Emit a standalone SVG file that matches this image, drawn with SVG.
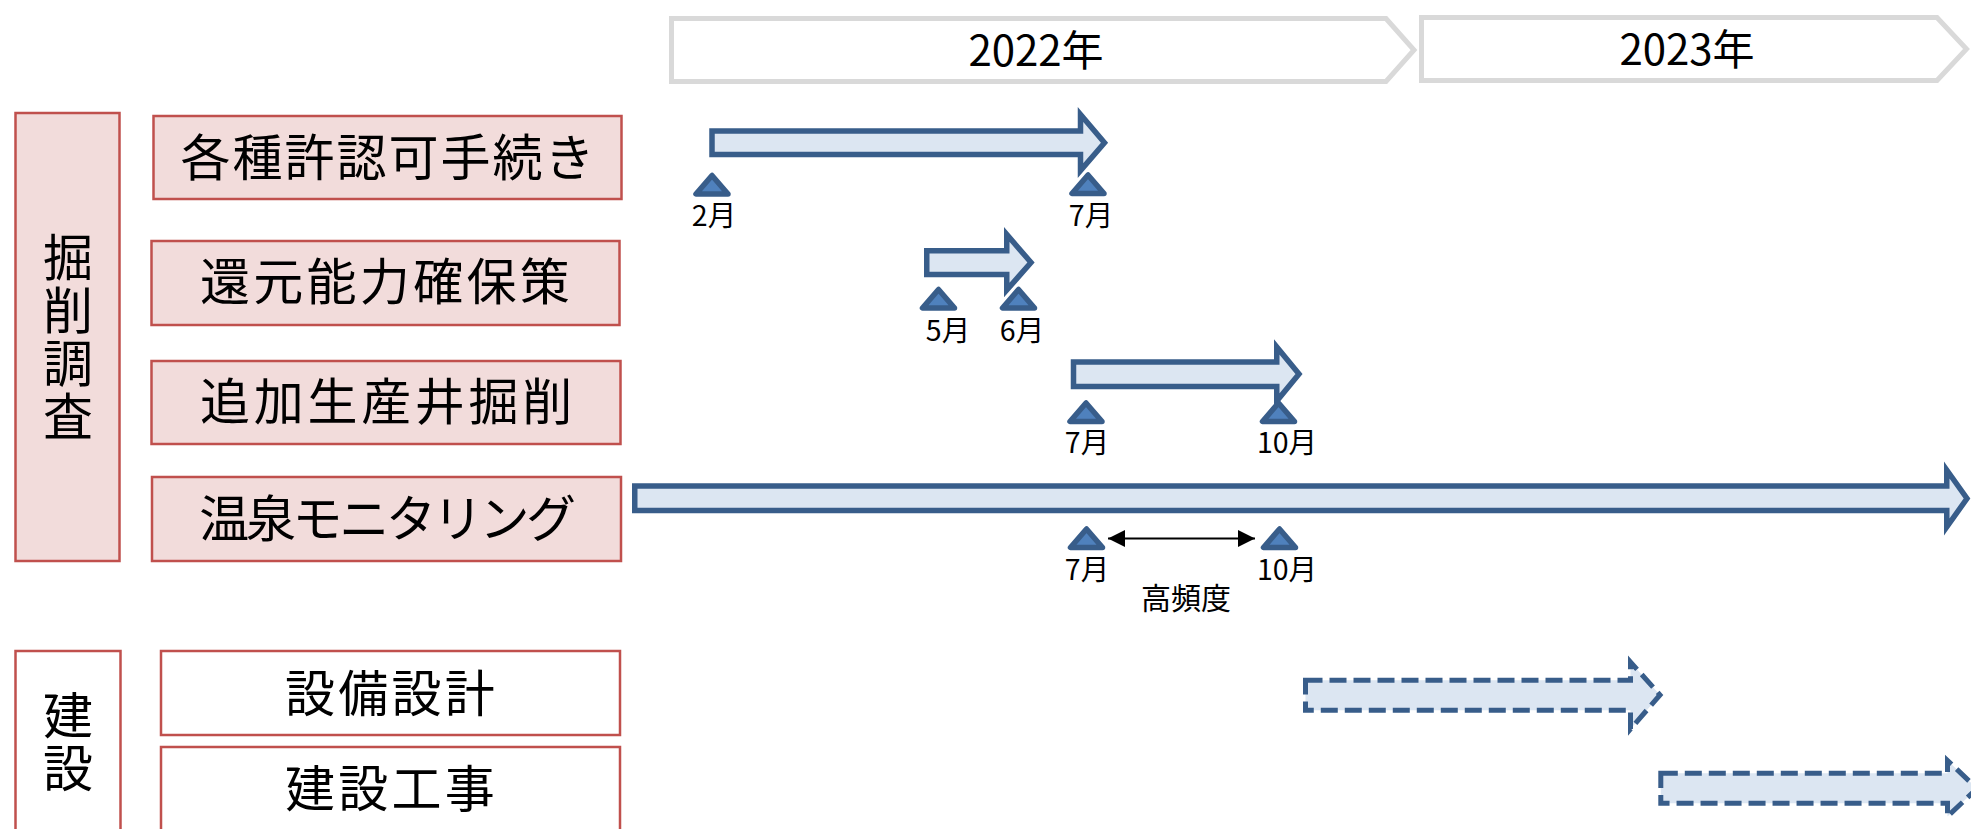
<svg xmlns="http://www.w3.org/2000/svg" width="1971" height="829" viewBox="0 0 1971 829">
<style>
text{font-family:"Noto Sans CJK JP","Noto Sans",sans-serif;fill:#000}
.hdr{fill:#fff;stroke:#d9d9d9;stroke-width:5;stroke-linejoin:miter}
.hdrt{font-size:42px;text-anchor:middle}
.grp{fill:#f2dcdb;stroke:#c0504d;stroke-width:2.5}
.grpw{fill:#fff;stroke:#c0504d;stroke-width:2.5}
.task{font-size:50px;text-anchor:middle}
.vt{font-size:50px;text-anchor:middle;writing-mode:vertical-rl;letter-spacing:3px}
.bar{fill:#dce6f2;stroke:#385d8a;stroke-width:5.5;stroke-linejoin:miter;stroke-miterlimit:10}
.dbar{fill:#dce6f2;stroke:#385d8a;stroke-width:5;stroke-dasharray:17 7;stroke-linejoin:miter;stroke-miterlimit:10}
.tri{fill:#4f81bd;stroke:#385d8a;stroke-width:5.5;stroke-linejoin:round}
.ms{font-size:28.5px;text-anchor:middle}
.conn{stroke:#000;stroke-width:2;fill:none}
</style>
<defs>
<polygon id="tri" class="tri" points="-16,0 16,0 0,-18.5"/>
<marker id="ah" viewBox="0 0 17 17" refX="17" refY="8.5" markerWidth="17" markerHeight="17" markerUnits="userSpaceOnUse" orient="auto-start-reverse">
<polygon points="0,0 17,8.5 0,17" fill="#000"/>
</marker>
</defs>

<g id="year2022">
<polygon class="hdr" points="671.5,18.5 1386,18.5 1414,50 1386,81.5 671.5,81.5"/>
<text class="hdrt" x="1036" y="66">2022年</text>
</g>
<g id="year2023">
<polygon class="hdr" points="1421.5,17.5 1937,17.5 1966.5,49 1937,80.5 1421.5,80.5"/>
<text class="hdrt" x="1687" y="65">2023年</text>
</g>

<g id="group-kussaku">
<rect class="grp" x="15.5" y="113" width="104" height="448"/>
<text class="vt" x="68" y="338">掘削調査</text>
</g>
<g id="group-kensetsu">
<rect class="grpw" x="15.5" y="651" width="105" height="200"/>
<text class="vt" x="68" y="743">建設</text>
</g>

<g id="task-kyoninka">
<rect class="grp" x="153.5" y="116" width="468" height="83"/>
<text class="task" x="388.5" y="176" letter-spacing="2">各種許認可手続き</text>
</g>
<g id="task-kangen">
<rect class="grp" x="151.5" y="241" width="468" height="84"/>
<text class="task" x="386.5" y="300" letter-spacing="3.3">還元能力確保策</text>
</g>
<g id="task-tsuika">
<rect class="grp" x="151.5" y="361" width="469" height="83"/>
<text class="task" x="388" y="420" letter-spacing="3.7">追加生産井掘削</text>
</g>
<g id="task-onsen">
<rect class="grp" x="152" y="477" width="469" height="84"/>
<text class="task" x="386" y="537" letter-spacing="-3.3">温泉モニタリング</text>
</g>
<g id="task-setsubi">
<rect class="grpw" x="161" y="651" width="459" height="84"/>
<text class="task" x="391.5" y="712" letter-spacing="3.3">設備設計</text>
</g>
<g id="task-koji">
<rect class="grpw" x="161" y="747" width="459" height="120"/>
<text class="task" x="391.5" y="807" letter-spacing="3.3">建設工事</text>
</g>

<g id="bar-kyoninka">
<polygon class="bar" points="712,131 1080.5,131 1080.5,114.5 1104.5,142.75 1080.5,170.5 1080.5,154.5 712,154.5"/>
</g>
<g id="bar-kangen">
<polygon class="bar" points="926.75,250.75 1006.75,250.75 1006.75,234.5 1031,262.5 1006.75,290 1006.75,274.5 926.75,274.5"/>
</g>
<g id="bar-tsuika">
<polygon class="bar" points="1073.5,362 1276.75,362 1276.75,347 1299,374 1276.75,401 1276.75,386.5 1073.5,386.5"/>
</g>
<g id="bar-onsen">
<polygon class="bar" points="634.75,486 1946.75,486 1946.75,470 1967,498.5 1946.75,527 1946.75,510.5 634.75,510.5"/>
</g>
<g id="bar-setsubi">
<polygon class="dbar" points="1305.5,680.2 1630.5,680.2 1630.5,662 1660,695 1630.5,729 1630.5,710.2 1305.5,710.2"/>
</g>
<g id="bar-koji">
<polygon class="dbar" points="1660.8,773.2 1947.5,773.2 1947.5,760.5 1977,788.5 1947.5,816.5 1947.5,803.2 1660.8,803.2"/>
</g>

<g id="milestones">
<use href="#tri" x="712" y="194"/>
<text class="ms" x="714" y="226">2月</text>
<use href="#tri" x="1088" y="193.5"/>
<text class="ms" x="1091" y="226">7月</text>
<use href="#tri" x="938.5" y="308"/>
<text class="ms" x="948" y="341">5月</text>
<use href="#tri" x="1018.5" y="308"/>
<text class="ms" x="1022" y="341">6月</text>
<use href="#tri" x="1086" y="421.5"/>
<text class="ms" x="1087" y="453">7月</text>
<use href="#tri" x="1278.5" y="421.5"/>
<text class="ms" x="1287" y="453">10月</text>
<use href="#tri" x="1086.5" y="547.5"/>
<text class="ms" x="1087" y="580">7月</text>
<use href="#tri" x="1279.5" y="547.5"/>
<text class="ms" x="1287" y="580">10月</text>
</g>

<g id="connectors">
<line class="conn" x1="1108" y1="538.5" x2="1255" y2="538.5" marker-start="url(#ah)" marker-end="url(#ah)"/>
<text x="1186" y="609" style="font-size:30px;text-anchor:middle">高頻度</text>
</g>
</svg>
